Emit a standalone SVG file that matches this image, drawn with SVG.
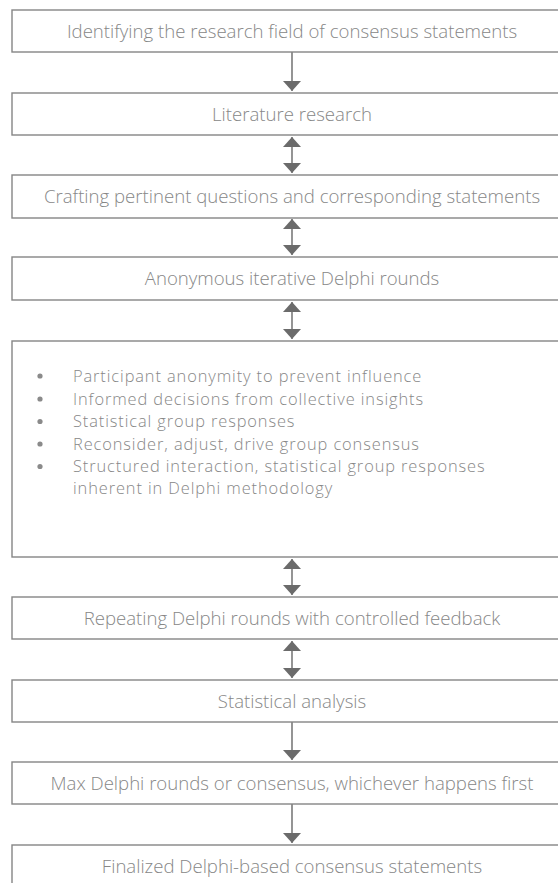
<svg xmlns="http://www.w3.org/2000/svg" width="558" height="883" viewBox="0 0 558 883">
<style>
.box{fill:#fff;stroke:#858585;stroke-width:1.4}
.t{font-family:"Open Sans","Liberation Sans",sans-serif;font-weight:300;font-size:18.6px;fill:#878787;text-anchor:middle}
.b{font-family:"Open Sans","Liberation Sans",sans-serif;font-weight:300;font-size:16.4px;letter-spacing:0.9px;fill:#878787}
.c{stroke:#7a7a7a;stroke-width:1.6;fill:none}
.dot{fill:#8a8a8a}
</style>
<defs>
<marker id="hd" markerUnits="userSpaceOnUse" markerWidth="12" markerHeight="20" viewBox="0 0 12 20" refX="10" refY="10" orient="auto-start-reverse">
<path d="M0,1 L10,10 L0,19 Z" fill="#6b6b6b"/>
</marker>
</defs>
<rect width="558" height="883" fill="#fff"/>
<g id="connectors">
<path class="c" d="M292,52 V91" marker-end="url(#hd)"/>
<path class="c" d="M292,137 V173" marker-start="url(#hd)" marker-end="url(#hd)"/>
<path class="c" d="M292,219 V255" marker-start="url(#hd)" marker-end="url(#hd)"/>
<path class="c" d="M292,302 V339" marker-start="url(#hd)" marker-end="url(#hd)"/>
<path class="c" d="M292,559 V595" marker-start="url(#hd)" marker-end="url(#hd)"/>
<path class="c" d="M292,641 V678" marker-start="url(#hd)" marker-end="url(#hd)"/>
<path class="c" d="M292,722 V760" marker-end="url(#hd)"/>
<path class="c" d="M292,804 V843" marker-end="url(#hd)"/>
</g>
<g id="n1"><rect class="box" x="12" y="10" width="560" height="42"/><text class="t" x="292" y="37.5">Identifying the research field of consensus statements</text></g>
<g id="n2"><rect class="box" x="12" y="93" width="560" height="42"/><text class="t" x="292" y="120.5">Literature research</text></g>
<g id="n3"><rect class="box" x="12" y="175" width="560" height="43"/><text class="t" x="292" y="203">Crafting pertinent questions and corresponding statements</text></g>
<g id="n4"><rect class="box" x="12" y="257" width="560" height="43"/><text class="t" x="292" y="285">Anonymous iterative Delphi rounds</text></g>
<g id="n5"><rect class="box" x="12" y="341" width="560" height="216"/>
<g class="b">
<circle class="dot" cx="40" cy="376" r="2.6"/><text x="73" y="381.5">Participant anonymity to prevent influence</text>
<circle class="dot" cx="40" cy="399" r="2.6"/><text x="73" y="404.5">Informed decisions from collective insights</text>
<circle class="dot" cx="40" cy="421.5" r="2.6"/><text x="73" y="427">Statistical group responses</text>
<circle class="dot" cx="40" cy="444" r="2.6"/><text x="73" y="449.5">Reconsider, adjust, drive group consensus</text>
<circle class="dot" cx="40" cy="466.5" r="2.6"/><text x="73" y="472">Structured interaction, statistical group responses</text>
<text x="73" y="494">inherent in Delphi methodology</text>
</g></g>
<g id="n6"><rect class="box" x="12" y="597" width="560" height="42"/><text class="t" x="292" y="624.5">Repeating Delphi rounds with controlled feedback</text></g>
<g id="n7"><rect class="box" x="12" y="680" width="560" height="42"/><text class="t" x="292" y="707.5">Statistical analysis</text></g>
<g id="n8"><rect class="box" x="12" y="762" width="560" height="42"/><text class="t" x="292" y="789.5">Max Delphi rounds or consensus, whichever happens first</text></g>
<g id="n9"><rect class="box" x="12" y="845" width="560" height="60"/><text class="t" x="292" y="873">Finalized Delphi-based consensus statements</text></g>
</svg>
